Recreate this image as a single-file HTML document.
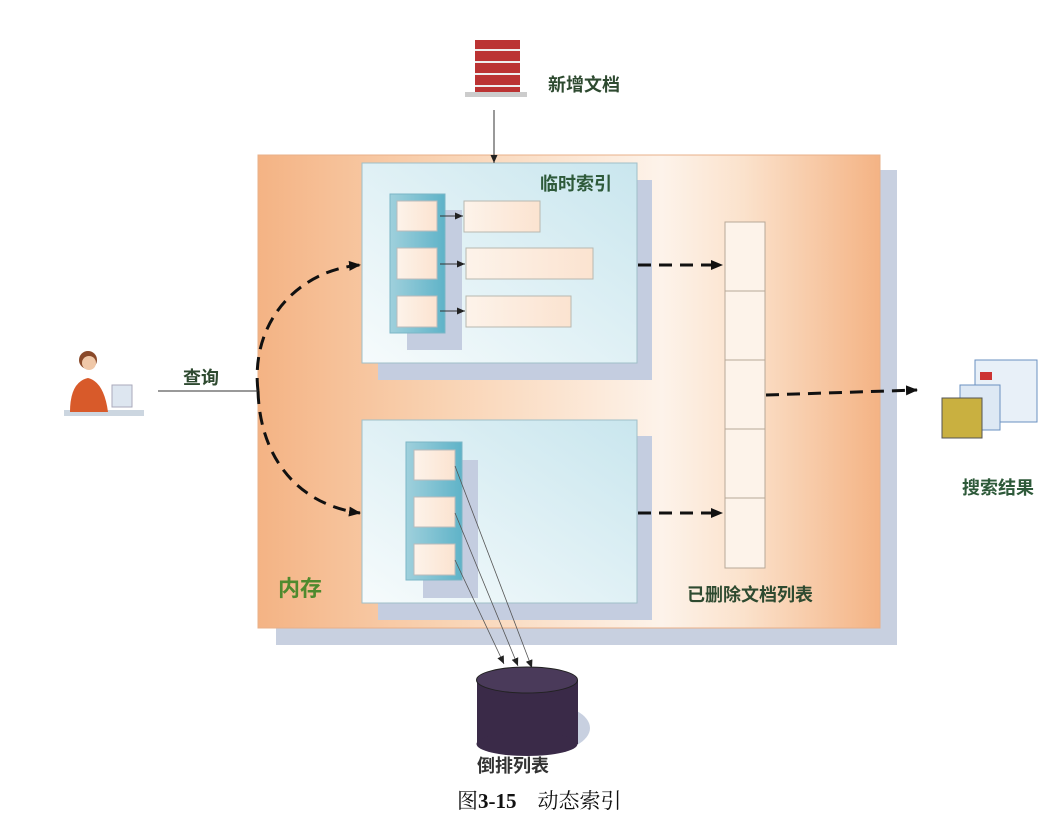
<!DOCTYPE html>
<html><head><meta charset="utf-8"><style>
html,body{margin:0;padding:0;background:#fff;width:1062px;height:816px;overflow:hidden}
svg text{font-family:"Liberation Sans","Noto Sans CJK SC",sans-serif;font-weight:bold}
</style></head><body>
<svg width="1062" height="816" viewBox="0 0 1062 816" xmlns="http://www.w3.org/2000/svg">
<defs>
<linearGradient id="og" x1="0" x2="1" y1="0" y2="0">
<stop offset="0" stop-color="#f4b384"/><stop offset="0.3" stop-color="#f9d3b3"/>
<stop offset="0.65" stop-color="#fdf3ea"/><stop offset="0.78" stop-color="#fbe2cc"/>
<stop offset="1" stop-color="#f4b384"/></linearGradient>
<linearGradient id="bg" x1="0" x2="1" y1="1" y2="0">
<stop offset="0" stop-color="#f6fbfc"/><stop offset="1" stop-color="#c9e6ee"/></linearGradient>
<linearGradient id="cg" x1="0" x2="1"><stop offset="0" stop-color="#fdf3ea"/><stop offset="1" stop-color="#fbe3d0"/></linearGradient>
<linearGradient id="col" x1="0" x2="1"><stop offset="0" stop-color="#9fd0dc"/><stop offset="1" stop-color="#5fb3c8"/></linearGradient>
<marker id="ah" markerWidth="12" markerHeight="12" refX="11" refY="6" orient="auto" markerUnits="userSpaceOnUse"><path d="M0,1 L12,6 L0,11z" fill="#111"/></marker>
<marker id="as" markerWidth="9" markerHeight="9" refX="8" refY="4.5" orient="auto" markerUnits="userSpaceOnUse"><path d="M0,1 L8,4.5 L0,8z" fill="#222"/></marker>
</defs>
<rect x="276" y="170" width="621" height="475" fill="#c8d0e0"/>
<rect x="258" y="155" width="622" height="473" fill="url(#og)" stroke="#e8b08a"/>
<rect x="378" y="180" width="274" height="200" fill="#c4cde0"/>
<rect x="362" y="163" width="275" height="200" fill="url(#bg)" stroke="#9fbfc8"/>
<text x="540" y="190" font-size="18" fill="#2e5a3a">临时索引</text>
<rect x="407" y="210" width="55" height="140" fill="#c4cde0"/>
<rect x="390" y="194" width="55" height="139" fill="url(#col)" stroke="#7bb6c6"/>
<rect x="397" y="201" width="40" height="30" fill="url(#cg)" stroke="#bbb"/>
<rect x="397" y="248" width="40" height="31" fill="url(#cg)" stroke="#bbb"/>
<rect x="397" y="296" width="40" height="31" fill="url(#cg)" stroke="#bbb"/>
<rect x="464" y="201" width="76" height="31" fill="url(#cg)" stroke="#b8b8b0"/>
<rect x="466" y="248" width="127" height="31" fill="url(#cg)" stroke="#b8b8b0"/>
<rect x="466" y="296" width="105" height="31" fill="url(#cg)" stroke="#b8b8b0"/>
<g stroke="#333" stroke-width="1">
<line x1="440" y1="216" x2="463" y2="216" marker-end="url(#as)"/>
<line x1="440" y1="264" x2="465" y2="264" marker-end="url(#as)"/>
<line x1="440" y1="311" x2="465" y2="311" marker-end="url(#as)"/>
</g>
<rect x="378" y="436" width="274" height="184" fill="#c4cde0"/>
<rect x="362" y="420" width="275" height="183" fill="url(#bg)" stroke="#9fbfc8"/>
<rect x="423" y="460" width="55" height="138" fill="#c4cde0"/>
<rect x="406" y="442" width="56" height="138" fill="url(#col)" stroke="#7bb6c6"/>
<rect x="414" y="450" width="41" height="30" fill="url(#cg)" stroke="#bbb"/>
<rect x="414" y="497" width="41" height="30" fill="url(#cg)" stroke="#bbb"/>
<rect x="414" y="544" width="41" height="31" fill="url(#cg)" stroke="#bbb"/>
<g stroke="#555" stroke-width="0.8">
<line x1="455" y1="466" x2="532" y2="668" marker-end="url(#as)"/>
<line x1="455" y1="513" x2="518" y2="666" marker-end="url(#as)"/>
<line x1="455" y1="560" x2="504" y2="664" marker-end="url(#as)"/>
</g>
<rect x="725" y="222" width="40" height="346" fill="#fdf3ea" stroke="#b8a898"/>
<g stroke="#b8a898"><line x1="725" y1="291" x2="765" y2="291"/><line x1="725" y1="360" x2="765" y2="360"/><line x1="725" y1="429" x2="765" y2="429"/><line x1="725" y1="498" x2="765" y2="498"/></g>
<text x="687" y="601" font-size="18" fill="#2e4a30">已删除文档列表</text>
<text x="278" y="596" font-size="22" fill="#4f8a2e">内存</text>
<g stroke="#111" stroke-width="3" fill="none" stroke-dasharray="13,8">
<path d="M258,391 C250,320 300,270 360,265" marker-end="url(#ah)"/>
<path d="M258,391 C260,460 300,505 360,513" marker-end="url(#ah)"/>
<line x1="638" y1="265" x2="722" y2="265" marker-end="url(#ah)"/>
<line x1="638" y1="513" x2="722" y2="513" marker-end="url(#ah)"/>
<line x1="766" y1="395" x2="917" y2="390" marker-end="url(#ah)"/>
</g>
<line x1="158" y1="391" x2="258" y2="391" stroke="#333"/>
<text x="183" y="384" font-size="18" fill="#2e4a30">查询</text>
<rect x="64" y="410" width="80" height="6" fill="#ccd6e0"/>
<circle cx="88" cy="360" r="9" fill="#8a4a2a"/>
<circle cx="89" cy="363" r="7" fill="#f0c8a8"/>
<path d="M70,412 Q70,382 88,378 Q104,382 108,412z" fill="#d85a2a"/>
<rect x="112" y="385" width="20" height="22" fill="#dde6f0" stroke="#aab"/>
<rect x="475" y="40" width="45" height="52" fill="#b33"/>
<g stroke="#eee" stroke-width="2"><line x1="475" y1="50" x2="520" y2="50"/><line x1="475" y1="62" x2="520" y2="62"/><line x1="475" y1="74" x2="520" y2="74"/><line x1="475" y1="86" x2="520" y2="86"/></g>
<rect x="465" y="92" width="62" height="5" fill="#ccc"/>
<text x="548" y="91" font-size="18" fill="#2e4a30">新增文档</text>
<line x1="494" y1="110" x2="494" y2="163" stroke="#333" marker-end="url(#as)"/>
<rect x="975" y="360" width="62" height="62" fill="#e8f0f8" stroke="#6a90c0"/>
<rect x="960" y="385" width="40" height="45" fill="#dde8f4" stroke="#6a90c0"/>
<rect x="942" y="398" width="40" height="40" fill="#c9b040" stroke="#555"/>
<rect x="980" y="372" width="12" height="8" fill="#c33"/>
<text x="962" y="494" font-size="18" fill="#2e5a3a">搜索结果</text>
<ellipse cx="545" cy="728" rx="45" ry="24" fill="#c8d0e0"/>
<rect x="477" y="680" width="101" height="64" fill="#3a2a48"/>
<ellipse cx="527" cy="744" rx="50.5" ry="12" fill="#3a2a48"/>
<ellipse cx="527" cy="680" rx="50.5" ry="13" fill="#4a3a5a" stroke="#222"/>
<text x="477" y="772" font-size="18" fill="#333">倒排列表</text>
<text x="457" y="808" font-size="21" style="font-weight:normal;font-family:'Liberation Serif','Noto Serif CJK SC',serif" fill="#111">图<tspan style="font-weight:bold">3-15</tspan>　动态索引</text>
</svg>
</body></html>
